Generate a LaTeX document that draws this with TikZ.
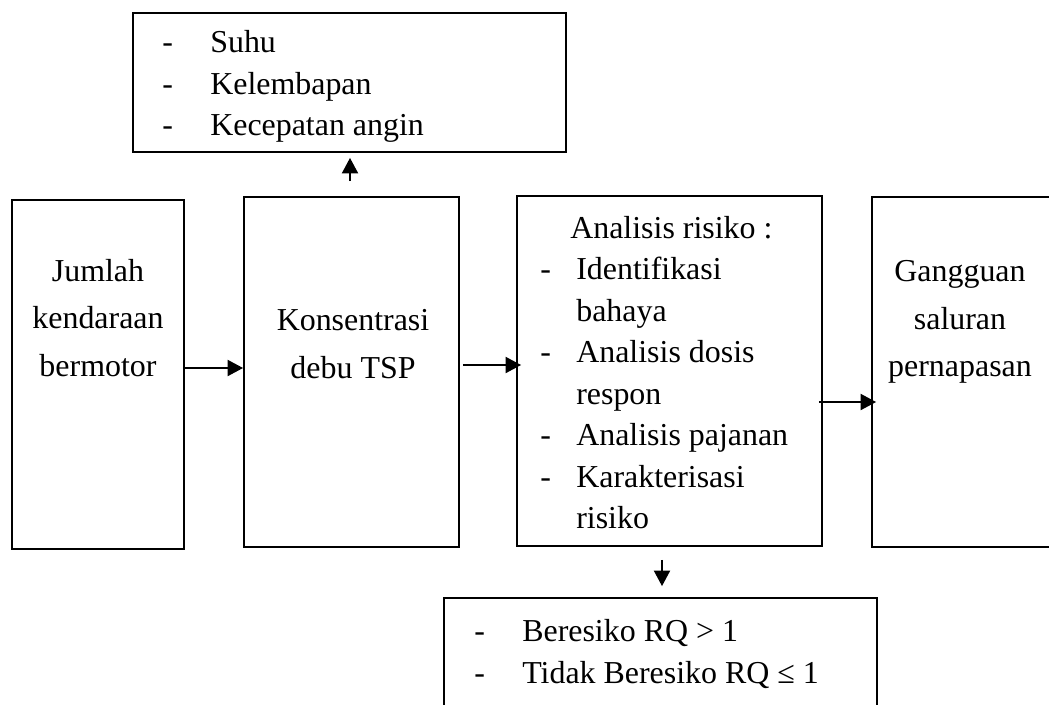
\documentclass[tikz,border=0pt]{standalone}
\usepackage{fontspec}
\setmainfont{Liberation Serif}
\usetikzlibrary{arrows.meta, positioning}

\begin{document}
\begin{tikzpicture}[x=0.025cm, y=-0.025cm, >={Triangle[length=11pt, width=11.5pt]},
    box/.style={draw, line width=1.3pt, inner sep=0pt},
    txt/.style={inner sep=0pt, align=center, font=\fontsize{22.7}{34}\selectfont},
    lst/.style={inner sep=0pt, anchor=west, font=\fontsize{22.7}{29.5}\selectfont},
    arr/.style={->, line width=1pt}]
    \clip (0,0) rectangle (1049,704);

    % Boxes
    \node[box, minimum width=10.825cm, minimum height=3.475cm] (faktor) at (349.5,82.5) {};
    \node[box, minimum width=4.3cm, minimum height=8.725cm] (jumlah) at (98,374.5) {};
    \node[box, minimum width=5.375cm, minimum height=8.75cm] (konsentrasi) at (351.5,372) {};
    \node[box, minimum width=7.625cm, minimum height=8.75cm] (analisis) at (669.5,371) {};
    \node[box, minimum width=4.6cm, minimum height=8.75cm] (gangguan) at (964,372) {};
    \node[box, minimum width=10.825cm, minimum height=3.55cm] (risiko) at (660.5,669) {};

    % Texts
    \node[lst] (faktortxt) at (162,86) {\begin{tabular}{@{}p{1.2cm}@{}l@{}}
        - & Suhu\\ - & Kelembapan\\ - & Kecepatan angin\end{tabular}};
    \node[txt] (jumlahtxt) at (98,318) {Jumlah\\kendaraan\\bermotor};
    \node[txt] (konsentrasitxt) at (353,344) {Konsentrasi\\debu TSP};
    \node[lst] (analisistxt) at (540,375) {\begin{tabular}{@{}p{0.9cm}@{}l@{}}
        \multicolumn{2}{@{\hspace{0.75cm}}l@{}}{Analisis risiko :}\\
        - & Identifikasi\\ & bahaya\\ - & Analisis dosis\\ & respon\\
        - & Analisis pajanan\\ - & Karakterisasi\\ & risiko\end{tabular}};
    \node[txt] (gangguantxt) at (960,322) {Gangguan\\saluran\\pernapasan};
    \node[lst] (risikotxt) at (474,654) {\begin{tabular}{@{}p{1.2cm}@{}l@{}}
        - & Beresiko RQ > 1\\ - & Tidak Beresiko RQ ≤ 1\end{tabular}};

    % Arrows
    \draw[arr] (jumlah.east |- 0,368) -- (konsentrasi.west |- 0,368);
    \draw[arr, shorten <=0.075cm, shorten >=-0.125cm] (konsentrasi.east |- 0,365) -- (analisis.west |- 0,365);
    \draw[arr, shorten <=-0.1cm, shorten >=-0.125cm] (analisis.east |- 0,402) -- (gangguan.west |- 0,402);
    \draw[arr, shorten <=0.375cm, shorten >=0.125cm] (350,0 |- konsentrasi.north) -- (350,0 |- faktor.south);
    \draw[arr, shorten <=0.325cm, shorten >=0.275cm] (662,0 |- analisis.south) -- (662,0 |- risiko.north);
\end{tikzpicture}
\end{document}
